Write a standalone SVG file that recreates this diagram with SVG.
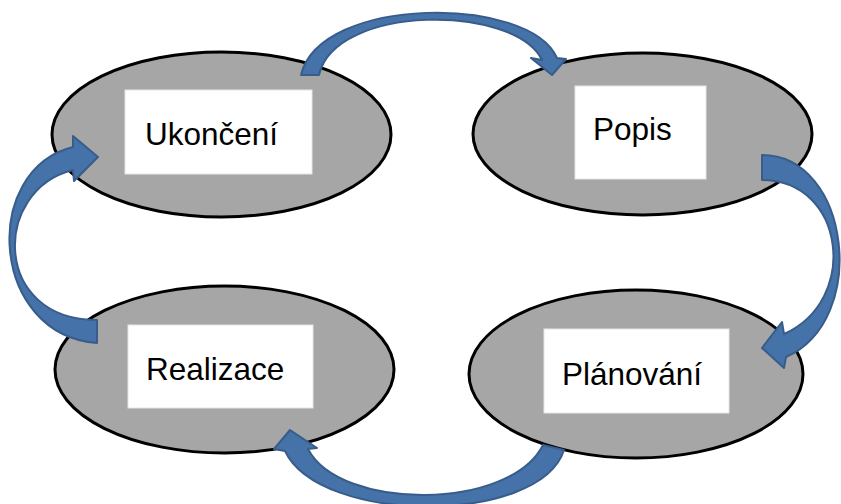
<svg xmlns="http://www.w3.org/2000/svg" width="841" height="504" viewBox="0 0 841 504">
  <defs>
    <style>
      .phase ellipse { fill: #a6a6a6; stroke: #000000; stroke-width: 3; }
      .phase rect { fill: #ffffff; stroke: #e6e6e6; stroke-width: 1; }
      .phase text { font-family: "Liberation Sans", Arial, sans-serif; font-size: 31.5px; fill: #000000; }
      .flow path { fill: #4472a9; stroke: #385d8a; stroke-width: 2; stroke-linejoin: round; }
    </style>
  </defs>
  <rect width="841" height="504" fill="#ffffff"/>

  <!-- phases of the cycle -->
  <g id="ukonceni" class="phase">
    <ellipse cx="221.5" cy="134.5" rx="169.5" ry="82.5"/>
    <rect x="125" y="90" width="187" height="84"/>
    <text x="145" y="145">Ukončení</text>
  </g>
  <g id="popis" class="phase">
    <ellipse cx="642.5" cy="134" rx="169.5" ry="81"/>
    <rect x="575" y="86" width="131" height="93"/>
    <text x="593" y="140">Popis</text>
  </g>
  <g id="planovani" class="phase">
    <ellipse cx="636" cy="374" rx="167" ry="84"/>
    <rect x="544" y="329" width="185" height="84"/>
    <text x="562" y="385">Plánování</text>
  </g>
  <g id="realizace" class="phase">
    <ellipse cx="224.5" cy="369.5" rx="169.5" ry="83.5"/>
    <rect x="128" y="325" width="185" height="83"/>
    <text x="146" y="380">Realizace</text>
  </g>

  <!-- curved block arrows between phases -->
  <g id="connectors" class="flow">
    <!-- Ukončení -> Popis -->
    <path d="M301,75 C320,-5 530,-5 557,58 L566,59 L552,75 L531,58 L542,60 C515,4 335,4 319,75 Z"/>
    <!-- Popis -> Plánování -->
    <path d="M762,155 C850,155 870,320 786,357 L784,368 L762,348 L782,322 L784,334 C860,300 845,180 762,180 Z"/>
    <!-- Plánování -> Realizace -->
    <path d="M564,450 C540,525 320,525 285,451 L274,449 L290,430 L317,448 L308,449 C340,511 510,511 543,445 Z"/>
    <!-- Realizace -> Ukončení -->
    <path d="M97,343 C-10,335 -20,170 73,147 L73,136 L98,157 L74,181 L73,170 C-8,190 -8,320 97,320 Z"/>
  </g>
</svg>
